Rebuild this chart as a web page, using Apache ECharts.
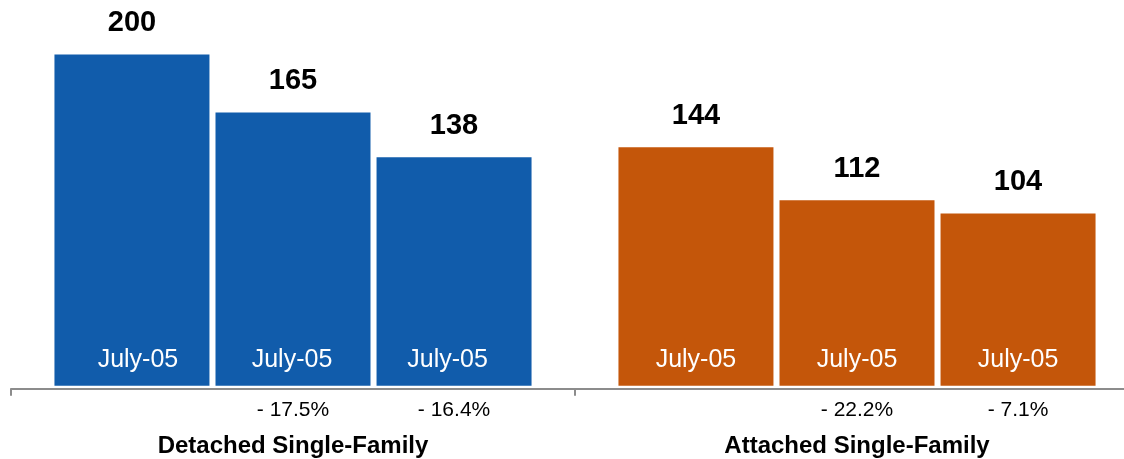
<!DOCTYPE html>
<html>
<head>
<meta charset="utf-8">
<title>Single-Family Sales</title>
<script src="https://cdn.jsdelivr.net/npm/echarts@6/dist/echarts.min.js"></script>
<style>
  html, body { margin: 0; padding: 0; background: #ffffff; }
  #chart { width: 1124px; height: 459px; }
</style>
</head>
<body>
<div id="chart"></div>
<script>
// Housing segments along the category axis
const groups = ['Detached Single-Family', 'Attached Single-Family'];

// Period shown inside each bar, one per bar position
const periodLabels = ['July-05', 'July-05', 'July-05'];

// Values for the three bar positions, per segment
const firstValues  = [200, 144];
const secondValues = [165, 112];
const thirdValues  = [138, 104];

// Change versus the previous bar, printed under the axis
const firstChanges  = ['', ''];
const secondChanges = ['- 17.5%', '- 22.2%'];
const thirdChanges  = ['- 16.4%', '- 7.1%'];

const segmentColors = ['#115CAB', '#C4560A'];

const FONT = '"Liberation Sans", Arial, Helvetica, sans-serif';
const BAR_WIDTH = 155;
const BAR_GAP = '3.9%';
// Horizontal nudge (px) of the period text in the detached segment's bars
const DETACHED_PERIOD_NUDGE = [6, -1, -6.5];

const seriesValues = [firstValues, secondValues, thirdValues];
const seriesChanges = [firstChanges, secondChanges, thirdChanges];

function periodRich(nudge) {
  const pad = Math.abs(nudge) * 2;
  return {
    a: {
      color: '#ffffff', fontSize: 25, fontFamily: FONT, lineHeight: 51, align: 'center',
      padding: nudge >= 0 ? [0, 0, 0, pad] : [0, pad, 0, 0]
    },
    b: { color: '#000000', fontSize: 21, fontFamily: FONT, lineHeight: 51, align: 'center' }
  };
}

const chart = echarts.init(document.getElementById('chart'), null, { renderer: 'canvas' });

const series = [];

// Coloured bars with the period inside and the change below the axis
seriesValues.forEach((vals, s) => {
  series.push({
    type: 'bar',
    xAxisIndex: 0,
    barWidth: BAR_WIDTH,
    barGap: BAR_GAP,
    silent: true,
    data: vals.map((v, i) => ({
      value: v,
      itemStyle: { color: segmentColors[i] },
      label: { rich: periodRich(i === 0 ? DETACHED_PERIOD_NUDGE[s] : 0) }
    })),
    label: {
      show: true,
      position: ['50%', '100%'],
      align: 'center',
      verticalAlign: 'middle',
      offset: [0, -0.5],
      formatter: (p) => '{a|' + periodLabels[s] + '}\n{b|' + (seriesChanges[s][p.dataIndex] || ' ') + '}',
      rich: periodRich(0)
    }
  });
});

// Transparent twins carrying the value labels above each bar
seriesValues.forEach((vals) => {
  series.push({
    type: 'bar',
    xAxisIndex: 1,
    barWidth: BAR_WIDTH,
    barGap: BAR_GAP,
    silent: true,
    data: vals,
    itemStyle: { color: 'rgba(0,0,0,0)' },
    label: {
      show: true,
      position: 'top',
      distance: 17,
      color: '#000000',
      fontSize: 29,
      fontWeight: 'bold',
      fontFamily: FONT
    }
  });
});

const option = {
  animation: false,
  backgroundColor: '#ffffff',
  grid: {
    left: 11,
    width: 1128,
    top: 54.5,
    height: 331.2,
    containLabel: false,
    outerBoundsMode: 'none'
  },
  xAxis: [
    {
      type: 'category',
      data: groups,
      offset: 3,
      axisLine: { show: true, onZero: false, lineStyle: { color: '#8C8C8C', width: 2 } },
      axisTick: { show: true, length: 7, lineStyle: { color: '#8C8C8C', width: 2 } },
      axisLabel: {
        interval: 0,
        margin: 46,
        color: '#000000',
        fontSize: 24,
        fontWeight: 'bold',
        fontFamily: FONT
      }
    },
    {
      type: 'category',
      data: groups,
      show: false
    }
  ],
  yAxis: {
    type: 'value',
    min: 0,
    max: 200,
    show: false,
    splitLine: { show: false }
  },
  series: series
};

chart.setOption(option);
</script>
</body>
</html>
